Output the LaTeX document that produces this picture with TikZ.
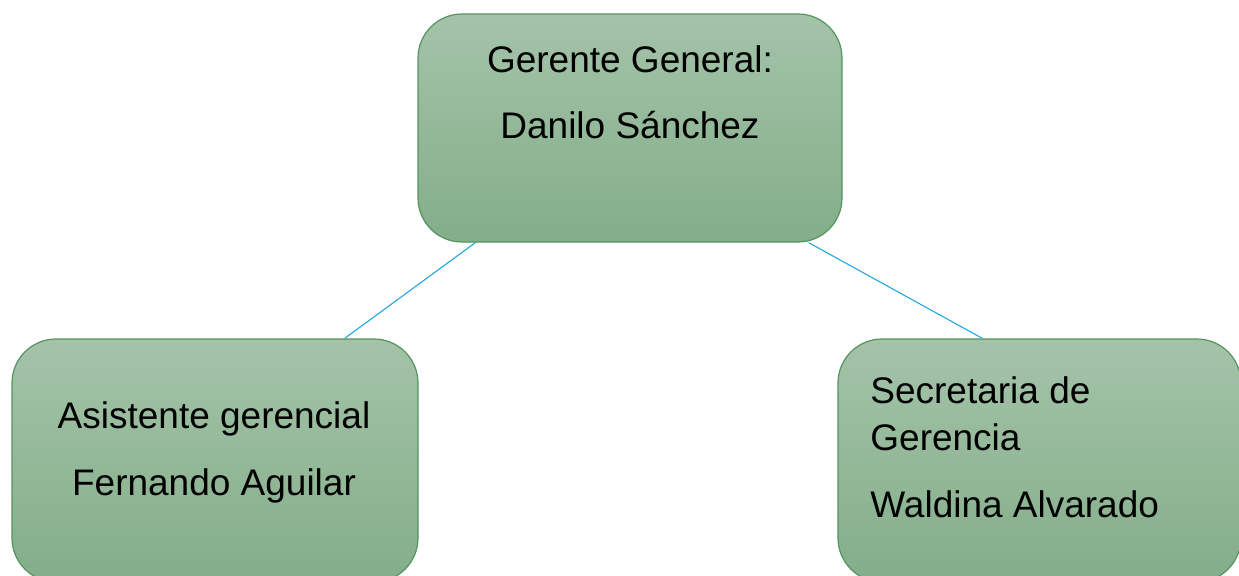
\documentclass[tikz,border=0pt]{standalone}
\usepackage{fontspec}
\setmainfont{Liberation Sans}
\usetikzlibrary{calc}
\definecolor{boxtop}{HTML}{A4C3A9}
\definecolor{boxbot}{HTML}{83AE89}
\definecolor{boxedge}{HTML}{55945F}
\definecolor{linkblue}{HTML}{22A8E0}
\tikzset{
  orgbox/.style={draw=boxedge, line width=0.6pt, rounded corners=22pt,
    top color=boxtop, bottom color=boxbot, inner sep=0pt},
  label/.style={font=\fontsize{18.5}{20}\selectfont, text=black, inner sep=0pt},
  link/.style={draw=linkblue, line width=0.55pt}
}
\begin{document}
\begin{tikzpicture}[x=0.5pt, y=-0.5pt]
  \useasboundingbox (0,0) rectangle (1239,575);
  \clip (0,0) rectangle (1239,575);
  % boxes
  \node[orgbox, minimum width=212pt, minimum height=114pt] (top) at (630,128) {};
  \node[orgbox, minimum width=203pt, minimum height=121.5pt] (left) at (215,460.5) {};
  \node[orgbox, minimum width=201.5pt, minimum height=121.5pt] (right) at (1039.5,460.5) {};
  % connectors
  \draw[link] ([xshift=29pt]top.south west) -- ([xshift=-37pt]left.north east);
  \draw[link] ([xshift=-17pt]top.south east) -- ([xshift=72.5pt]right.north west);
  % texts
  \node[label, anchor=base] (t1) at (630,72) {Gerente General:};
  \node[label, anchor=base] (t2) at (630,138) {Danilo Sánchez};
  \node[label, anchor=base] (l1) at (214,428) {Asistente gerencial};
  \node[label, anchor=base] (l2) at (214,495) {Fernando Aguilar};
  \node[label, anchor=base west] (r1) at (870,403) {Secretaria de};
  \node[label, anchor=base west] (r2) at (870,450) {Gerencia};
  \node[label, anchor=base west] (r3) at (870,517) {Waldina Alvarado};
\end{tikzpicture}
\end{document}
